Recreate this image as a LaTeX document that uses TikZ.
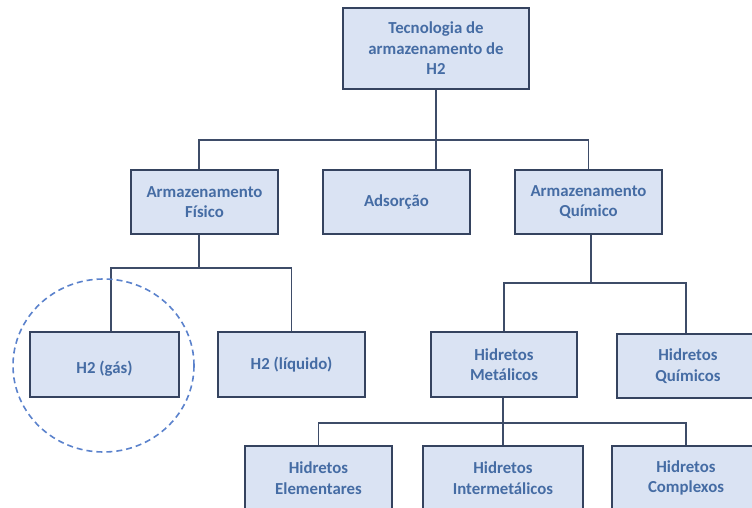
\documentclass[tikz,border=0pt]{standalone}
\usepackage{fontspec}
\setmainfont{Carlito}
\begin{document}
\begin{tikzpicture}[x=1pt,y=-1pt,
  boxtxt/.style={text=boxtext, font=\bfseries\fontsize{16.8}{20.5}\selectfont,
    align=center, inner sep=0pt},
  box/.style={boxtxt, draw=boxline, line width=1.5pt, fill=boxfill,
    minimum height=64pt},
  link/.style={draw=linkcol, line width=1.6pt}]
\definecolor{boxfill}{HTML}{DAE3F3}
\definecolor{boxline}{HTML}{35435F}
\definecolor{boxtext}{HTML}{456CA4}
\definecolor{linkcol}{HTML}{3E4C68}
\definecolor{ringcol}{HTML}{5B82CC}
\useasboundingbox (0,0) rectangle (752,508);
\clip (0,0) rectangle (752,508);

% boxes
\node[box, minimum width=186pt, minimum height=81pt] (top) at (436,48.5) {Tecnologia de\\armazenamento de\\H2};
\node[box, minimum width=147pt] (fis) at (204.5,202) {Armazenamento\\Físico};
\node[box, minimum width=147pt] (ads) at (396.5,202) {Adsorção};
\node[box, minimum width=147pt] (qui) at (588.5,202) {Armazenamento\\Químico};
\node[box, minimum width=149pt, minimum height=65pt] (gas) at (104.5,364.5) {};
\node[boxtxt] (gaslabel) at ([yshift=-4.5pt]gas.center) {H2 (gás)};
\node[box, minimum width=147pt, minimum height=65pt] (liq) at (291.5,364.5) {H2 (líquido)};
\node[box, minimum width=146pt, minimum height=65pt] (met) at (504,364.5) {Hidretos\\Metálicos};
\node[box, minimum width=142pt] (hq) at (688,366) {Hidretos\\Químicos};
\node[box, minimum width=147pt] (elem) at (318.5,478) {Hidretos\\Elementares};
\node[box, minimum width=160pt] (inter) at (503,478) {Hidretos\\Intermetálicos};
\node[box, minimum width=148pt] (cpx) at (686,478) {Hidretos\\Complexos};

% junction points of the tree
\coordinate (j1) at (436,140);
\coordinate (j2) at (199,268);
\coordinate (j3) at (591,283);
\coordinate (j4) at (503,423);

% connectors
\draw[link] (top.south) -- (top.south |- ads.north);
\draw[link] ([xshift=-5.5pt]fis.north) |- (j1) -| (qui.north);
\draw[link] ([xshift=-5.5pt]fis.south) -- (j2);
\draw[link] ([xshift=6.5pt]gas.north) |- (j2) -| (liq.north);
\draw[link] ([xshift=2.5pt]qui.south) -- (j3);
\draw[link] (met.north) |- (j3) -| ([xshift=-2pt]hq.north);
\draw[link] ([xshift=-1pt]met.south) -- (j4);
\draw[link] (elem.north) |- (j4) -| (cpx.north);
\draw[link] (j4) -- (inter.north);

% highlight ring
\draw[ringcol, line width=1.6pt, dash pattern=on 6pt off 4pt] (103.5,365.5) ellipse [x radius=90.5pt, y radius=86.5pt];
\end{tikzpicture}
\end{document}
